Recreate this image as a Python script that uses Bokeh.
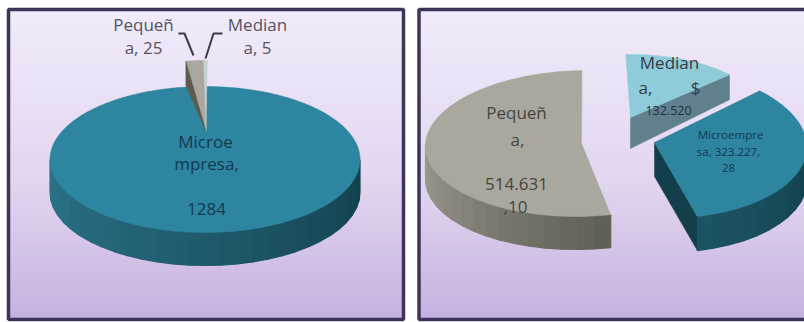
import math

from bokeh.core.properties import value
from bokeh.embed import file_html
from bokeh.layouts import row
from bokeh.models import Range1d
from bokeh.plotting import figure
from bokeh.resources import INLINE

# Company size breakdown: count of firms (left) and amounts (right)
count_sizes = ["Microempresa", "Pequeña", "Mediana"]
count_values = [1284, 25, 5]

amount_sizes = ["Mediana", "Microempresa", "Pequeña"]
amount_values = [132520.00, 323227.28, 514631.10]

FONT = value("Open Sans")
FRAME = "#3e3459"
TEAL = "#2e85a0"
GREY = "#aaa89e"
AQUA = "#8fcbd8"


def mix(c0, c1, t):
    a = [int(c0[i:i + 2], 16) for i in (1, 3, 5)]
    b = [int(c1[i:i + 2], 16) for i in (1, 3, 5)]
    return "#%02x%02x%02x" % tuple(round(u + (v - u) * t) for u, v in zip(a, b))


def sweeps(values, start):
    """Cumulative clockwise angles, measured from twelve o'clock."""
    total = sum(values)
    edges = [start]
    for v in values:
        edges.append(edges[-1] + 360 * v / total)
    return edges


def rim(cx, cy, rx, ry, a, shear=0.0):
    """Point on the tilted pie's edge; shear leans the slice for perspective."""
    r = math.radians(a)
    dy = -ry * math.cos(r)
    return cx + rx * math.sin(r) + shear * dy, cy + dy


def top_face(p, cx, cy, rx, ry, a0, a1, color, shear=0.0):
    n = max(4, int(abs(a1 - a0)))
    pts = [rim(cx, cy, rx, ry, a0 + (a1 - a0) * i / n, shear) for i in range(n + 1)]
    p.patch([cx] + [q[0] for q in pts], [cy] + [q[1] for q in pts],
            fill_color=color, line_color=color, line_width=0.5)


def side_wall(p, cx, cy, rx, ry, depth, a0, a1, c0, c1, shear=0.0):
    """Outer wall of a slice, shaded strip by strip along the arc."""
    n = max(6, int(abs(a1 - a0) / 6))
    for i in range(n):
        u0 = a0 + (a1 - a0) * i / n
        u1 = a0 + (a1 - a0) * (i + 1) / n
        x0, y0 = rim(cx, cy, rx, ry, u0, shear)
        x1, y1 = rim(cx, cy, rx, ry, u1, shear)
        color = mix(c0, c1, (i + 0.5) / n)
        p.patch([x0, x1, x1, x0], [y0, y1, y1 + depth, y0 + depth],
                fill_color=color, line_color=color, line_width=1.2)


def panel(width, x_start, x0, x1):
    p = figure(width=width, height=322, output_backend="svg", toolbar_location=None,
               x_axis_type=None, y_axis_type=None,
               x_range=Range1d(x_start, x_start + width), y_range=Range1d(322, 0),
               min_border=0, outline_line_color=None, background_fill_color="white",
               border_fill_color="white")
    p.grid.visible = False
    top, bottom = 9, 319
    steps = 62
    for i in range(steps):
        t = i / (steps - 1)
        color = mix("#f1ebf9", "#e3d6f0", t / 0.55) if t < 0.55 else mix("#e3d6f0", "#c6b2e0", (t - 0.55) / 0.45)
        y0 = top + (bottom - top) * i / steps
        y1 = top + (bottom - top) * (i + 1) / steps + 0.6
        p.quad(left=x0, right=x1, top=y0, bottom=y1, fill_color=color, line_color=None)
    p.quad(left=x0, right=x1, top=top, bottom=bottom, fill_color=None,
           line_color=FRAME, line_width=3.5)
    return p


def label(p, x, y, lines, size, color):
    for (tx, ty, tt) in zip(x, y, lines):
        p.text([tx], [ty], text=[tt], text_font=FONT, text_font_size=size,
               text_color=color, text_align="center", text_baseline="middle")


# --- Left panel: number of firms ---
left = panel(410, 0, 8, 403)
cx, cy, rx, ry, depth = 204.5, 159, 155, 73, 33
side_wall(left, cx, cy, rx, ry, depth, 270, 90, "#2c758b", "#123f4c")
top_face(left, cx, cy, rx, ry, 0, 360, TEAL)

total = sum(count_values)
peq_sweep = 360 * count_values[1] / total
med_sweep = 360 * count_values[2] / total
ax, ay = 205.5, 131
ex_rx, ex_ry = 150, 71
a_end = 360.5
a_mid = a_end - med_sweep
a_start = a_mid - peq_sweep
top_face(left, ax, ay, ex_rx, ex_ry, a_start, a_mid, GREY)
top_face(left, ax, ay, ex_rx, ex_ry, a_mid, a_end, "#c3d0d2")
rx0, ry0 = rim(ax, ay, ex_rx, ex_ry, a_start)
left.patch([ax, rx0, rx0], [ay, ry0, ry0 + 24], fill_color="#5e5a4c", line_color="#5e5a4c", line_width=0.5)

left.line([178, 184, 193], [33, 33, 55], line_color="#3b3b4a", line_width=2)
left.line([222, 213, 205], [33, 33, 58], line_color="#3b3b4a", line_width=2)

label(left, [143, 143], [24, 47], ["Pequeñ", "a, %d" % count_values[1]], "17px", "#55535f")
label(left, [257, 257], [24, 47], ["Median", "a, %d" % count_values[2]], "17px", "#55535f")
label(left, [205, 206, 206], [141, 163, 208],
      ["Microe", "mpresa,", str(count_values[0])], "17px", "#123a50")

# --- Right panel: amounts ---
right = panel(394, 410, 418.5, 812)
edges = sweeps(amount_values, -2)

# Mediana slice sits furthest back and is drawn first
mx, my, mrx, mry, mdepth = 630, 117, 135, 63, 31
x0, y0 = rim(mx, my, mrx, mry, edges[1])
right.patch([mx, x0, x0, mx], [my, y0, y0 + 25, my + mdepth], fill_color="#60808e",
            line_color="#60808e", line_width=0.5)
top_face(right, mx, my, mrx, mry, edges[0], edges[1], AQUA)

# Microempresa slice
tx, ty, trx, try_, tdepth, tshear = 654, 142, 152, 76, 34, 0.12
x1, y1 = rim(tx, ty, trx, try_, edges[2], tshear)
right.patch([tx, x1, x1, tx], [ty, y1, y1 + tdepth, ty + tdepth], fill_color="#123f4b",
            line_color="#123f4b", line_width=0.5)
side_wall(right, tx, ty, trx, try_, tdepth, edges[2], 90, "#1c5565", "#123f4c", tshear)
top_face(right, tx, ty, trx, try_, edges[1], edges[2], TEAL, tshear)

# Pequeña slice
gx, gy, grx, gry, gdepth, gshear = 581, 143, 156, 73, 33, -0.08
side_wall(right, gx, gy, grx, gry, gdepth, 270, edges[2], "#a09e94", "#5f5e54", gshear)
top_face(right, gx, gy, grx, gry, edges[2], edges[3], GREY, gshear)

label(right, [516, 517, 516, 515], [112, 139, 183, 206],
      ["Pequeñ", "a,", "514.631", ",10"], "17px", "#45453f")
label(right, [669, 645, 695], [62, 87, 87], ["Median", "a,", "$"], "17px", "#2f3d4a")
label(right, [668], [110], ["132.520"], "12.5px", "#22303c")
label(right, [730, 728, 728], [134, 151, 167],
      ["Microempre", "sa, 323.227,", "28"], "11.5px", "#123a50")

out = row(left, right, spacing=0)
open("out.html", "w").write(file_html(out, INLINE))
